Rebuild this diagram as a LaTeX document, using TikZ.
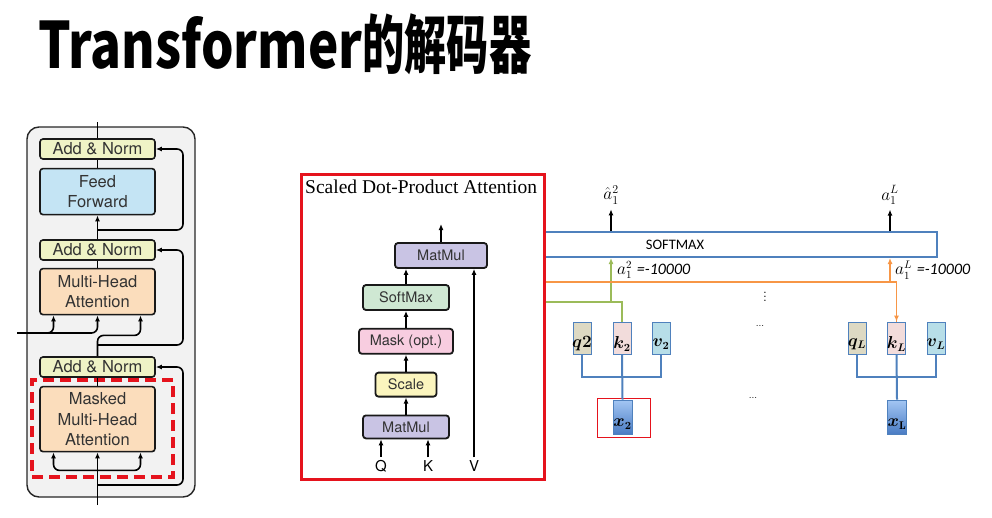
\documentclass[tikz,border=0pt]{standalone}
\usepackage{fontspec}
\usepackage{bm}
\usepackage{tikz}
\usetikzlibrary{arrows.meta,positioning,calc}
\setsansfont{TeX Gyre Heros}
\newfontfamily\titlelatin[FakeStretch=0.8]{Noto Sans CJK SC}
\newfontfamily\titlecjk[FakeStretch=0.66]{Noto Sans CJK SC}
\newfontfamily\calfont{Carlito}
\newfontfamily\timesfont{Liberation Serif}
\definecolor{decgray}{HTML}{F2F2F2}
\definecolor{normgreen}{HTML}{EFF3C6}
\definecolor{ffblue}{HTML}{C4E4F4}
\definecolor{attnorange}{HTML}{FBDDBC}
\definecolor{mmpurple}{HTML}{C9C4E4}
\definecolor{smgreen}{HTML}{CFE8D3}
\definecolor{maskpink}{HTML}{F8CDE0}
\definecolor{scaleyellow}{HTML}{FBF5BE}
\definecolor{framered}{HTML}{E5131D}
\definecolor{lineblue}{HTML}{4F81BD}
\definecolor{keygreen}{HTML}{9BBB59}
\definecolor{keyorange}{HTML}{F79646}
\definecolor{qfill}{HTML}{DDD9C3}
\definecolor{kfill}{HTML}{F2DCDB}
\definecolor{vfill}{HTML}{B7DEE8}
\definecolor{xtop}{HTML}{A3C6F3}
\definecolor{xbottom}{HTML}{4A7CC4}
\tikzset{
  block/.style={draw=black!90,line width=1.6pt,rounded corners=3pt,align=center,inner sep=0pt,
    text=black!80,font=\sffamily\fontsize{16.5}{20}\selectfont},
  addnorm/.style={block,fill=normgreen,minimum width=115,minimum height=20},
  sdpbox/.style={block,line width=1.8pt,font=\sffamily\fontsize{14.5}{16}\selectfont,minimum height=25},
  wire/.style={line width=1.6pt},
  qkv/.style={draw=lineblue,line width=0.8pt,minimum width=18,minimum height=32,inner sep=0pt},
  qkvlabel/.style={yshift=-6pt,inner sep=0pt,font=\fontsize{16}{16}\selectfont},
  tree/.style={draw=lineblue,line width=2pt},
  scorelabel/.style={anchor=west,inner sep=0pt,font=\fontsize{16}{16}\selectfont}
}
\begin{document}
\begin{tikzpicture}[x=1pt,y=-1pt,>={Latex[length=6pt,width=5pt]},node distance=17pt]
\useasboundingbox (0,0) rectangle (992,517);

% title
\node[anchor=base west,inner sep=0pt,font=\bfseries\fontsize{64}{70}\selectfont] (title) at (38,68) {\titlelatin Transformer\titlecjk 的解码器};

% decoder stack
\node[draw=black!85,line width=1.4pt,rounded corners=12pt,fill=decgray,minimum width=168,minimum height=370,inner sep=0pt] (dec) at (111,312) {};
\node[addnorm] (an3) at (97.5,149) {Add \& Norm};
\node[block,fill=ffblue,minimum width=115,minimum height=46,below=8pt of an3] (ff) {Feed\\Forward};
\node[addnorm] (an2) at (97.5,250) {Add \& Norm};
\node[block,fill=attnorange,minimum width=115,minimum height=46,below=7pt of an2] (mha) {Multi-Head\\Attention};
\node[addnorm] (an1) at (97.5,367) {Add \& Norm};
\node[block,fill=attnorange,minimum width=115,minimum height=65,below=8pt of an1] (mmha) {Masked\\Multi-Head\\Attention};
\node[draw=framered,line width=3.5pt,dash pattern=on 11pt off 6pt,minimum width=141,minimum height=97,inner sep=0pt] (mframe) at (102.5,428.5) {};

\coordinate (decout) at (97.5,122);
\coordinate (decin) at (97.5,505);
\coordinate (enc) at (17,333);
\coordinate (mhak) at ([xshift=-44pt]mha.south);
\coordinate (mhaq) at ([xshift=43pt]mha.south);
\coordinate (mmhal) at ([xshift=-44pt]mmha.south);
\coordinate (mmhar) at ([xshift=43pt]mmha.south);

\draw[wire] (an3.north) -- (decout);
\draw[wire,->] (an2.north) -- (ff.south);
\draw[wire] (ff.north) -- (an3.south);
\draw[wire] (mha.north) -- (an2.south);
\draw[wire] (mmha.north) -- (an1.south);
\draw[wire,->] (decin) -- (mmha.south);
\draw[wire,->,rounded corners=6pt] ($(mmha.south)+(0,18)$) -| (mmhal);
\draw[wire,->,rounded corners=6pt] ($(mmha.south)+(0,18)$) -| (mmhar);
\draw[wire,->,rounded corners=6pt] (enc) -| (mhak);
\draw[wire,->,rounded corners=6pt] (enc) -| (mha.south);
\draw[wire,->,rounded corners=6pt] (an1.north) |- ($(mhaq)+(0,20)$) -- (mhaq);
\draw[wire,->,rounded corners=6pt] (97.5,230) -| (183,175) |- (an3.east);
\draw[wire,->,rounded corners=6pt] (97.5,345) -| (183,290) |- (an2.east);
\draw[wire,->,rounded corners=6pt] (97.5,485) -| (183,420) |- (an1.east);

% softmax over the scores
\node[draw=lineblue,line width=2pt,minimum width=394,minimum height=25,inner sep=0pt] (smx) at (740,244.5) {};
\node[inner sep=0pt,font=\calfont\fontsize{14.5}{16}\selectfont] (smxlabel) at (675,245) {SOFTMAX};
\node[inner sep=0pt,font=\fontsize{17}{18}\selectfont] (ahat) at (611,195) {$\hat{a}_1^2$};
\node[inner sep=0pt,font=\fontsize{17}{18}\selectfont] (aL) at (890,195) {$a_1^L$};
\draw[wire,->] (smx.north -| ahat) -- ([yshift=-5pt]ahat.south);
\draw[wire,->] (smx.north -| aL) -- ([yshift=-5pt]aL.south);

% q k v of positions 2 and L
\node[qkv,fill=qfill,label={[qkvlabel]center:$\bm{q2}$}] (q2) at (582,338) {};
\node[qkv,fill=kfill,label={[qkvlabel]center:$\bm{k_2}$}] (k2) at (622,338) {};
\node[qkv,fill=vfill,label={[qkvlabel]center:$\bm{v_2}$}] (v2) at (661,338) {};
\node[qkv,top color=xtop,bottom color=xbottom,minimum width=19,minimum height=34,label={[qkvlabel,yshift=-1pt]center:$\bm{x_2}$}] (x2) at (622.5,417) {};
\node[draw=framered,line width=1pt,minimum width=53,minimum height=39,inner sep=0pt] (x2sel) at (623.5,417.5) {};
\node[qkv,fill=qfill,label={[qkvlabel]center:$\bm{q_L}$}] (qL) at (857,338) {};
\node[qkv,fill=kfill,label={[qkvlabel]center:$\bm{k_L}$}] (kL) at (896.5,338) {};
\node[qkv,fill=vfill,label={[qkvlabel]center:$\bm{v_L}$}] (vL) at (936,338) {};
\node[qkv,top color=xtop,bottom color=xbottom,minimum width=19,minimum height=34,label={[qkvlabel,yshift=-1pt]center:$\bm{x_{\mathrm{L}}}$}] (xL) at (897,417) {};

\coordinate (j2) at (622,377);
\coordinate (jL) at (896.5,377);
\draw[tree] (q2.south) |- (j2) -| (v2.south);
\draw[tree] (k2.south) -- (x2.north);
\draw[tree] (qL.south) |- (jL) -| (vL.south);
\draw[tree] (kL.south) -- (xL.north);

\node[inner sep=0pt,font=\fontsize{14}{16}\selectfont] (vdots) at (765,294) {$\vdots$};
\node[inner sep=0pt,font=\fontsize{10}{12}\selectfont] (dots1) at (760,326) {...};
\node[inner sep=0pt,font=\fontsize{10}{12}\selectfont] (dots2) at (753,398) {...};

% masked scores
\coordinate (gin) at (543,302);
\coordinate (oin) at (543,282);
\draw[keygreen,line width=1.8pt] (gin) -| (k2.north);
\draw[keygreen,line width=1.8pt,->] (gin -| ahat) -- (smx.south -| ahat);
\draw[keyorange,line width=1.8pt] (oin) -| (kL.north);
\draw[keyorange,line width=1.8pt,->] (oin -| aL) -- (smx.south -| aL);
\draw[keyorange,line width=1.8pt,->] (kL.north |- oin) -- (kL.north);
\node[scorelabel] (a2score) at (617,270) {$a_1^2$ {\calfont\itshape =-10000}};
\node[scorelabel] (aLscore) at (895,270) {$a_1^L$ {\calfont\itshape =-10000}};

% scaled dot-product attention
\node[draw=framered,line width=3pt,fill=white,minimum width=243,minimum height=305,inner sep=0pt,anchor=north west] (sdpa) at (300,173) {};
\node[anchor=base west,inner sep=0pt,font=\timesfont\fontsize{19.5}{20}\selectfont] (sdpatitle) at (305,193) {Scaled Dot-Product Attention};
\node[sdpbox,fill=mmpurple,minimum width=92] (mm2) at (441,255.5) {MatMul};
\node[sdpbox,fill=smgreen,minimum width=86] (softmax) at (406,297.5) {SoftMax};
\node[sdpbox,fill=maskpink,minimum width=94,below=of softmax] (mask) {Mask (opt.)};
\node[sdpbox,fill=scaleyellow,minimum width=61,minimum height=24,below=of mask] (scale) {Scale};
\node[sdpbox,fill=mmpurple,minimum width=86,minimum height=23,below=of scale] (mm1) {MatMul};
\node[inner sep=0pt,font=\sffamily\fontsize{15}{16}\selectfont] (qin) at (381,466) {Q};
\node[inner sep=0pt,font=\sffamily\fontsize{15}{16}\selectfont] (kin) at (428,466) {K};
\node[inner sep=0pt,font=\sffamily\fontsize{15}{16}\selectfont] (vin) at (474,466) {V};
\coordinate (sdpout) at (441,224);
\draw[wire,->] ([yshift=3pt]qin.north) -- (qin.north |- mm1.south);
\draw[wire,->] ([yshift=3pt]kin.north) -- (kin.north |- mm1.south);
\draw[wire,->] ([yshift=3pt]vin.north) -- (vin.north |- mm2.south);
\draw[wire,->] (mm1.north) -- (scale.south);
\draw[wire,->] (scale.north) -- (mask.south);
\draw[wire,->] (mask.north) -- (softmax.south);
\draw[wire,->] (softmax.north) -- (softmax.north |- mm2.south);
\draw[wire,->] (mm2.north) -- (sdpout);
\end{tikzpicture}
\end{document}
